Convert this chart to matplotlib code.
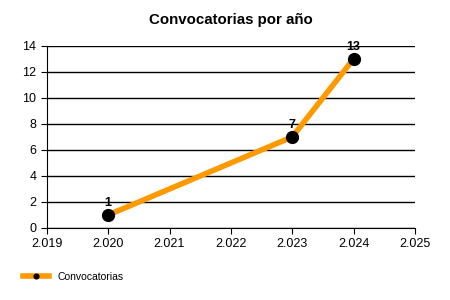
import matplotlib.pyplot as plt
from matplotlib.ticker import FuncFormatter, MultipleLocator

years = [2020, 2023, 2024]
counts = [1, 7, 13]

plt.rcParams['font.family'] = ['Liberation Sans', 'DejaVu Sans']

fig = plt.figure(figsize=(4.5, 3), dpi=100)
ax = fig.add_axes([0.104, 0.24, 0.818, 0.607])

ax.plot(years, counts, color='#FF9900', linewidth=4, marker='o',
        markersize=8.5, markerfacecolor='black', markeredgecolor='black',
        label='Convocatorias', zorder=3)
for x, y in zip(years, counts):
    ax.annotate(str(y), (x, y), xytext=(0, 4), textcoords='offset points',
                ha='center', va='bottom', fontsize=9, fontweight='bold')

ax.set_xlim(2019, 2025)
ax.set_ylim(0, 14)
ax.xaxis.set_major_locator(MultipleLocator(1))
ax.yaxis.set_major_locator(MultipleLocator(2))
ax.xaxis.set_major_formatter(FuncFormatter(lambda v, p: f"{int(v):,}".replace(',', '.')))
ax.grid(axis='y', color='black', linewidth=1)
ax.set_axisbelow(True)
for s in ['top', 'right']:
    ax.spines[s].set_visible(False)
ax.tick_params(labelsize=9, length=4)

ax.set_title('Convocatorias por año', fontsize=10.8, fontweight='bold', pad=16)

leg_handles, leg_labels = ax.get_legend_handles_labels()
fig.legend(leg_handles, leg_labels, loc='lower left', bbox_to_anchor=(0.03, 0.03),
           frameon=False, fontsize=7.5, handlelength=2.5, markerscale=0.4)

fig.savefig('out.png', dpi=100)
